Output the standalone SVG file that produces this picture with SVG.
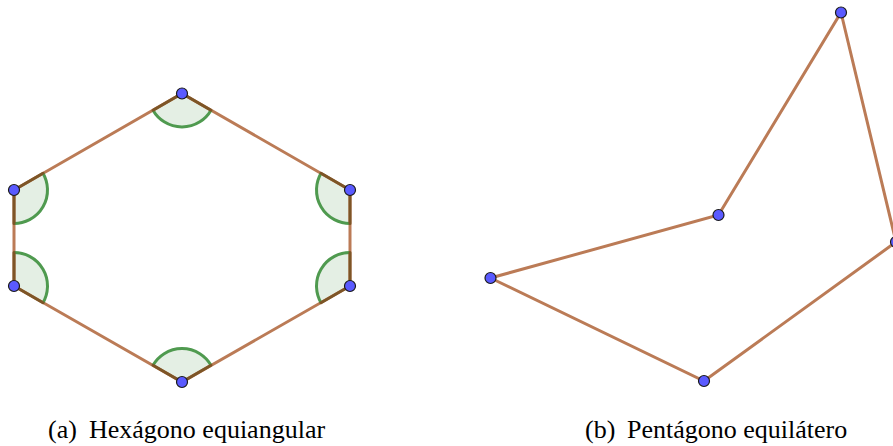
<svg xmlns="http://www.w3.org/2000/svg" width="893" height="446" viewBox="0 0 893 446">
<style>
.seg{stroke:#bb7b56;stroke-width:3;fill:none;stroke-linecap:round}
.sec{fill:#e4efe4;stroke:none}
.arc{fill:none;stroke:#4f9a4f;stroke-width:3}
.rad{fill:none;stroke:#7d5526;stroke-width:3;stroke-linecap:round}
.pt{fill:#5a5aff;stroke:#1a1a1a;stroke-width:1.2}
</style>
<rect width="893" height="446" fill="#fff"/>
<g id="angle-sectors">
<path class="sec" d="M182,93.5 L153,110.25 A33.5,33.5 0 0 0 211,110.25 Z"/>
<path class="sec" d="M14,190 L43,173.25 A33.5,33.5 0 0 1 14,223.5 Z"/>
<path class="sec" d="M14,286 L14,252.5 A33.5,33.5 0 0 1 43,302.75 Z"/>
<path class="sec" d="M182,382 L153,365.25 A33.5,33.5 0 0 1 211,365.25 Z"/>
<path class="sec" d="M350,190 L321,173.25 A33.5,33.5 0 0 0 350,223.5 Z"/>
<path class="sec" d="M350,286 L350,252.5 A33.5,33.5 0 0 0 321,302.75 Z"/>
</g>
<g id="connectors">
<polygon class="seg" points="182,93.5 350,190 350,286 182,382 14,286 14,190"/>
<polygon class="seg" points="841,12.5 896,242 704,381 490.5,278 718.5,215"/>
</g>
<g id="angle-marks">
<path class="arc" d="M153,110.25 A33.5,33.5 0 0 0 211,110.25"/>
<path class="rad" d="M153,110.25 L182,93.5 L211,110.25"/>
<path class="arc" d="M43,173.25 A33.5,33.5 0 0 1 14,223.5"/>
<path class="rad" d="M43,173.25 L14,190 L14,223.5"/>
<path class="arc" d="M14,252.5 A33.5,33.5 0 0 1 43,302.75"/>
<path class="rad" d="M14,252.5 L14,286 L43,302.75"/>
<path class="arc" d="M153,365.25 A33.5,33.5 0 0 1 211,365.25"/>
<path class="rad" d="M153,365.25 L182,382 L211,365.25"/>
<path class="arc" d="M321,173.25 A33.5,33.5 0 0 0 350,223.5"/>
<path class="rad" d="M321,173.25 L350,190 L350,223.5"/>
<path class="arc" d="M350,252.5 A33.5,33.5 0 0 0 321,302.75"/>
<path class="rad" d="M350,252.5 L350,286 L321,302.75"/>
</g>
<g id="hex-A"><circle class="pt" cx="182" cy="93.5" r="5.5"/></g>
<g id="hex-B"><circle class="pt" cx="350" cy="190" r="5.5"/></g>
<g id="hex-C"><circle class="pt" cx="350" cy="286" r="5.5"/></g>
<g id="hex-D"><circle class="pt" cx="182" cy="382" r="5.5"/></g>
<g id="hex-E"><circle class="pt" cx="14" cy="286" r="5.5"/></g>
<g id="hex-F"><circle class="pt" cx="14" cy="190" r="5.5"/></g>
<g id="pent-A"><circle class="pt" cx="841" cy="12.5" r="5.5"/></g>
<g id="pent-B"><circle class="pt" cx="896" cy="242" r="5.5"/></g>
<g id="pent-C"><circle class="pt" cx="704" cy="381" r="5.5"/></g>
<g id="pent-D"><circle class="pt" cx="490.5" cy="278" r="5.5"/></g>
<g id="pent-E"><circle class="pt" cx="718.5" cy="215" r="5.5"/></g>
<g id="captions" font-family="Liberation Serif, DejaVu Serif, serif" font-size="26" fill="#000">
<text x="48" y="438">(a)</text>
<text x="89" y="438">Hexágono equiangular</text>
<text x="585" y="438">(b)</text>
<text x="627" y="438">Pentágono equilátero</text>
</g>
</svg>
